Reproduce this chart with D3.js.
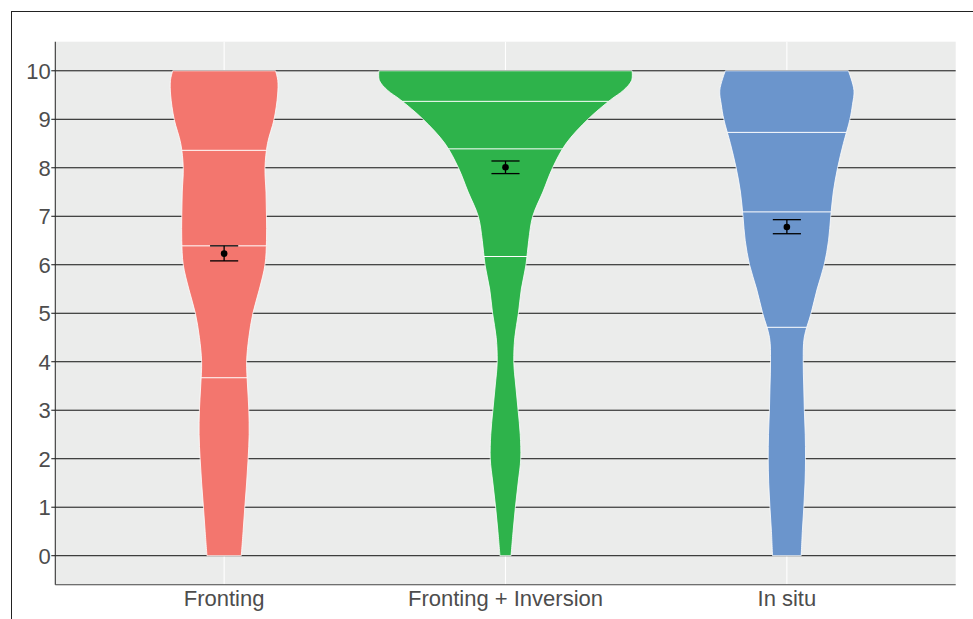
<!DOCTYPE html>
<html>
<head>
<meta charset="utf-8">
<script src="https://cdn.jsdelivr.net/npm/d3@7"></script>
<style>
  html, body { margin: 0; padding: 0; background: #ffffff; }
  svg { display: block; }
  text { font-family: "Liberation Sans", Arial, sans-serif; }
</style>
</head>
<body>
<svg id="chart" width="973" height="619"></svg>
<script>
// ---------- data ----------
const categories = ["Fronting", "Fronting + Inversion", "In situ"];
const colors = ["#F3766E", "#2EB34B", "#6B95CC"];
const yTicks = [0, 1, 2, 3, 4, 5, 6, 7, 8, 9, 10];

// violin density profiles: [rating, relative density]
const densityFronting = [[0,17],[0.5,18.8],[1,20.5],[1.5,22.3],[2,23.8],[2.5,24.8],[3,24.5],[3.5,23.2],[4,22.3],[4.5,24.5],[5,28.5],[5.5,35],[6,40.5],[6.5,42],[7,42],[7.5,41.5],[8,40.5],[8.5,43],[9,49.5],[9.5,53],[9.8,53.2],[10,51]];
const densityFrontInv = [[0,5.5],[0.5,7.5],[1,9.8],[1.5,12.5],[2,15.1],[2.5,14.6],[3,12.5],[3.5,10.2],[4,8.2],[4.5,9.2],[5,12.8],[5.5,15.7],[6,20.3],[6.5,23],[7,27],[7.5,37],[8,46.7],[8.5,60],[9,81.7],[9.4,104],[9.6,117],[9.8,125],[10,125.5]];
const densityInSitu = [[0,14.2],[0.5,15.3],[1,16.8],[1.5,18],[2,18.5],[2.5,18.2],[3,17.3],[3.5,16.7],[4,16.2],[4.5,17.2],[5,24],[5.5,30],[6,37],[6.5,41.3],[7,43.5],[7.5,46],[8,50.3],[8.5,56],[9,62.5],[9.3,65],[9.6,66.5],[10,61]];
const densities = [densityFronting, densityFrontInv, densityInSitu];

// quartiles (25%, 50%, 75%)
const quantFronting = [3.67, 6.39, 8.36];
const quantFrontInv = [6.17, 8.39, 9.37];
const quantInSitu = [4.71, 7.09, 8.73];
const quantiles = [quantFronting, quantFrontInv, quantInSitu];

// means with error bars
const means = [6.23, 8.01, 6.78];
const lower = [6.08, 7.88, 6.64];
const upper = [6.39, 8.14, 6.93];

// ---------- layout ----------
const svg = d3.select("#chart");
const panel = { left: 55.3, right: 955.7, top: 41.7, bottom: 584.8 };

const x = d3.scalePoint().domain(categories)
  .range([panel.left, panel.right]).padding(0.6);
const step = x.step();
const y = d3.scaleLinear().domain([-0.6, 10.6]).range([panel.bottom, panel.top]);
const maxDens = d3.max(densities, d => d3.max(d, p => p[1]));
const w = d3.scaleLinear().domain([0, maxDens]).range([0, 0.45 * step]);

// outer border
svg.append("rect").attr("x", 11.5).attr("y", 11.5).attr("width", 1200).attr("height", 1200)
  .attr("fill", "none").attr("stroke", "#222").attr("stroke-width", 1);

// panel background
svg.append("rect").attr("x", panel.left).attr("y", panel.top)
  .attr("width", panel.right - panel.left).attr("height", panel.bottom - panel.top)
  .attr("fill", "#EBECEB");

// vertical white gridlines
svg.append("g").selectAll("line").data(categories).join("line")
  .attr("x1", d => x(d)).attr("x2", d => x(d))
  .attr("y1", panel.top).attr("y2", panel.bottom)
  .attr("stroke", "#ffffff").attr("stroke-width", 1.1);

// horizontal black gridlines
svg.append("g").selectAll("line").data(yTicks).join("line")
  .attr("x1", panel.left).attr("x2", panel.right)
  .attr("y1", d => y(d)).attr("y2", d => y(d))
  .attr("stroke", "#111").attr("stroke-width", 1);

// violins
const defs = svg.append("defs");
categories.forEach((cat, i) => {
  const cx = x(cat);
  const area = d3.area()
    .y(d => y(d[0]))
    .x0(d => cx - w(d[1]))
    .x1(d => cx + w(d[1]))
    .curve(d3.curveCatmullRom.alpha(0.5));
  const pathD = area(densities[i]);
  defs.append("clipPath").attr("id", "clip" + i).append("path").attr("d", pathD);
  svg.append("path").attr("d", pathD)
    .attr("fill", colors[i]).attr("stroke", "#ffffff").attr("stroke-width", 0.8);
  svg.append("g").attr("clip-path", "url(#clip" + i + ")")
    .selectAll("line").data(quantiles[i]).join("line")
    .attr("x1", cx - 0.5 * step).attr("x2", cx + 0.5 * step)
    .attr("y1", d => y(d)).attr("y2", d => y(d))
    .attr("stroke", "#ffffff").attr("stroke-width", 1);
});

// error bars and means
const cap = 0.05 * step;
const eb = svg.append("g");
categories.forEach((cat, i) => {
  const cx = x(cat);
  eb.append("line").attr("x1", cx).attr("x2", cx).attr("y1", y(lower[i])).attr("y2", y(upper[i]))
    .attr("stroke", "#000").attr("stroke-width", 1.3);
  eb.append("line").attr("x1", cx - cap).attr("x2", cx + cap).attr("y1", y(lower[i])).attr("y2", y(lower[i]))
    .attr("stroke", "#000").attr("stroke-width", 1.3);
  eb.append("line").attr("x1", cx - cap).attr("x2", cx + cap).attr("y1", y(upper[i])).attr("y2", y(upper[i]))
    .attr("stroke", "#000").attr("stroke-width", 1.3);
  eb.append("circle").attr("cx", cx).attr("cy", y(means[i])).attr("r", 3.3).attr("fill", "#000");
});

// axes lines
svg.append("line").attr("x1", panel.left).attr("x2", panel.left)
  .attr("y1", panel.top).attr("y2", panel.bottom).attr("stroke", "#333").attr("stroke-width", 1.1);
svg.append("line").attr("x1", panel.left).attr("x2", panel.right)
  .attr("y1", panel.bottom).attr("y2", panel.bottom).attr("stroke", "#444").attr("stroke-width", 1.1);

// y ticks & labels
const yAxisG = svg.append("g");
yAxisG.selectAll("line").data(yTicks).join("line")
  .attr("x1", panel.left - 4).attr("x2", panel.left)
  .attr("y1", d => y(d)).attr("y2", d => y(d))
  .attr("stroke", "#111").attr("stroke-width", 1);
yAxisG.selectAll("text").data(yTicks).join("text")
  .attr("x", panel.left - 4.5).attr("y", d => y(d)).attr("dy", "0.36em")
  .attr("text-anchor", "end").attr("font-size", 22).attr("fill", "#4D4D4D")
  .text(d => d);

// x labels
svg.append("g").selectAll("text").data(categories).join("text")
  .attr("x", d => x(d)).attr("y", 605.5)
  .attr("text-anchor", "middle").attr("font-size", 22).attr("fill", "#4D4D4D")
  .text(d => d);
</script>
</body>
</html>
